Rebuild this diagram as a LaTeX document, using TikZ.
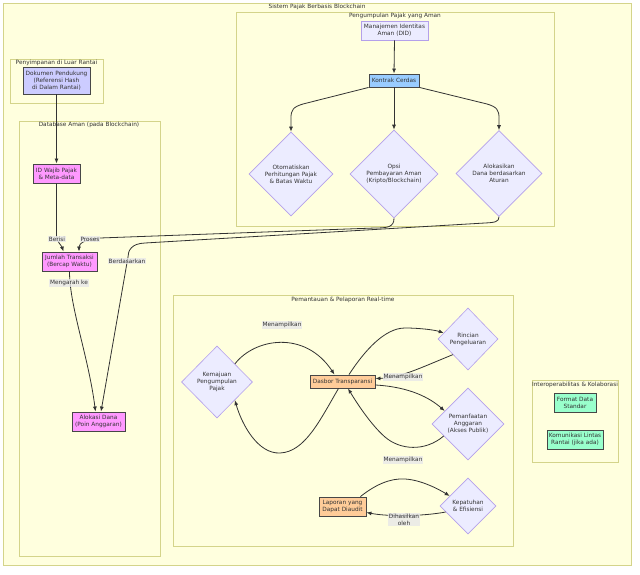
\documentclass[tikz,border=0pt]{standalone}
\usepackage{fontspec}
\setmainfont{DejaVu Sans}
\usetikzlibrary{shapes.geometric,arrows.meta}
\definecolor{clfill}{HTML}{FFFFDE}
\definecolor{cldraw}{HTML}{D4D48A}
\definecolor{ink}{HTML}{333333}
\definecolor{nfill}{HTML}{ECECFF}
\definecolor{ndraw}{HTML}{B4A0EA}
\definecolor{lblbg}{HTML}{E8E8E8}
\definecolor{cdok}{HTML}{CCCCFF}
\definecolor{cdb}{HTML}{FF99FF}
\definecolor{ckontrak}{HTML}{99CCFF}
\definecolor{cdasbor}{HTML}{FFCC99}
\definecolor{cinterop}{HTML}{99FFCC}
\begin{document}
\begin{tikzpicture}[x=1pt,y=-1pt,font=\fontsize{5.8}{7}\selectfont,text=ink]
		\tikzstyle{every node}+=[inner sep=0pt]
		\tikzstyle{cluster}=[draw=cldraw,fill=clfill,line width=0.8pt]
		\tikzstyle{box}=[rectangle,draw=ink!90,line width=0.9pt,align=center]
		\tikzstyle{plain}=[rectangle,draw=ndraw,fill=nfill,line width=0.6pt,align=center]
		\tikzstyle{choice}=[diamond,draw=ndraw,fill=nfill,line width=0.6pt,align=center,aspect=1]
		\tikzstyle{edge}=[draw=ink,line width=0.8pt,-{Latex[length=5pt,width=4pt]}]
		\tikzstyle{lbl}=[fill=lblbg,fill opacity=0.8,text opacity=1,inner sep=0.8pt,align=center]
		\fill [white] (0,0) rectangle (640,575);
		\useasboundingbox (0,0) rectangle (640,575);
		% clusters
		\draw [cluster] (3,3) rectangle (631,565);
		\node (tSistem) at (317,7) {Sistem Pajak Berbasis Blockchain};
		\draw [cluster] (10,59) rectangle (103,103);
		\node (tLuar) at (56.5,63) {Penyimpanan di Luar Rantai};
		\draw [cluster] (19,121) rectangle (160,556);
		\node (tDb) at (89,125) {Database Aman (pada Blockchain)};
		\draw [cluster] (236,12) rectangle (554,226);
		\node (tKumpul) at (395,16) {Pengumpulan Pajak yang Aman};
		\draw [cluster] (173,295) rectangle (513,546);
		\node (tPantau) at (343,300) {Pemantauan \& Pelaporan Real-time};
		\draw [cluster] (532,380) rectangle (618,462);
		\node (tInterop) at (575,385) {Interoperabilitas \& Kolaborasi};
		% nodes
		\node [box,fill=cdok,minimum width=67pt,minimum height=27pt] (dok) at (56.5,80.5) {Dokumen Pendukung\\(Referensi Hash\\di Dalam Rantai)};
		\node [box,fill=cdb,minimum width=47pt,minimum height=19pt] (idwp) at (56.5,173.5) {ID Wajib Pajak\\\& Meta-data};
		\node [box,fill=cdb,minimum width=55pt,minimum height=19pt] (jum) at (69.5,261.5) {Jumlah Transaksi\\(Bercap Waktu)};
		\node [box,fill=cdb,minimum width=53pt,minimum height=19pt] (ald) at (98.5,421.5) {Alokasi Dana\\(Poin Anggaran)};
		\node [plain,minimum width=67pt,minimum height=19pt] (did) at (394.5,30.5) {Manajemen Identitas\\Aman (DID)};
		\node [box,fill=ckontrak,minimum width=50pt,minimum height=13pt] (kc) at (394,80.5) {Kontrak Cerdas};
		\node [choice,minimum width=84pt,minimum height=84pt] (oto) at (291,174) {Otomatiskan\\Perhitungan Pajak\\\& Batas Waktu};
		\node [choice,minimum width=88pt,minimum height=88pt] (opsi) at (394,174) {Opsi\\Pembayaran Aman\\(Kripto/Blockchain)};
		\node [choice,minimum width=86pt,minimum height=86pt] (alk) at (499,173.5) {Alokasikan\\Dana berdasarkan\\Aturan};
		\node [box,fill=cdasbor,minimum width=65pt,minimum height=13pt] (das) at (342.5,381.5) {Dasbor Transparansi};
		\node [choice,minimum width=71pt,minimum height=72pt] (kem) at (217,382) {Kemajuan\\Pengumpulan\\Pajak};
		\node [choice,minimum width=60pt,minimum height=62pt] (rin) at (468,339) {Rincian\\Pengeluaran};
		\node [choice,minimum width=72pt,minimum height=72pt] (pem) at (468,424) {Pemanfaatan\\Anggaran\\(Akses Publik)};
		\node [box,fill=cdasbor,minimum width=47pt,minimum height=19pt] (lap) at (342.5,506.5) {Laporan yang\\Dapat Diaudit};
		\node [choice,minimum width=56pt,minimum height=56pt] (kep) at (468,506) {Kepatuhan\\\& Efisiensi};
		\node [box,fill=cinterop,minimum width=42pt,minimum height=19pt] (fds) at (575,402.5) {Format Data\\Standar};
		\node [box,fill=cinterop,minimum width=56pt,minimum height=19pt] (kom) at (575,439.5) {Komunikasi Lintas\\Rantai (jika ada)};
		% connectors
		\draw [edge] (dok.south) -- (idwp.north);
		\draw [edge] (idwp.south) -- ++(0,52) .. controls +(0,6) and +(-2,-6) .. ([xshift=-6pt]jum.north)
			node [lbl] at (57,239) {Berisi};
		\draw [edge] (opsi.south) .. controls +(0,9) and +(12,0) .. (375,228) -- (100,238) .. controls +(-14,0.5) and +(0,-8) .. ([xshift=9.5pt]jum.north)
			node [lbl] at (90,239) {Proses};
		\draw [edge] (alk.south) .. controls +(0,5) and +(10,-0.5) .. (485,223) -- (145,243) .. controls +(-14,0.5) and +(0,-6) .. (128,257) -- ([xshift=2.5pt]ald.north)
			node [lbl] at (127,261) {Berdasarkan};
		\draw [edge] (jum.south) .. controls +(0,35) and +(-7,-55) .. ([xshift=-3pt]ald.north)
			node [lbl] at (69,283) {Mengarah ke};
		\draw [edge] (did.south) -- (kc.north);
		\draw [edge] (kc.south west) -- (303,104) .. controls (293,107) and (291,110) .. (291,118) -- (oto.north);
		\draw [edge] (kc.south) -- (opsi.north);
		\draw [edge] (kc.south east) -- (487,104) .. controls (497,107) and (499,110) .. (499,118) -- (alk.north);
		\draw [edge] (kem.north east) .. controls (255,338) and (305,330) .. ([xshift=-8pt]das.north)
			node [lbl] at (282,325) {Menampilkan};
		\draw [edge] ([xshift=-4pt]das.south) .. controls (320,420) and (305,452) .. (280,453) .. controls (258,454) and (242,425) .. (kem.south east);
		\draw [edge] ([xshift=6.5pt]das.north) .. controls (365,350) and (385,328) .. (405,328) .. controls (420,328) and (435,330) .. ([xshift=6pt,yshift=6pt]rin.west);
		\draw [edge] (rin.south west) .. controls (420,368) and (400,378) .. ([yshift=3pt]das.east)
			node [lbl] at (403,377) {Menampilkan};
		\draw [edge] ([yshift=-3.5pt]das.east) .. controls (410,387) and (430,398) .. ([xshift=13pt,yshift=13pt]pem.west);
		\draw [edge] ([xshift=12pt,yshift=-12pt]pem.west) .. controls (425,452) and (400,450) .. (385,437) .. controls (370,424) and (355,400) .. ([xshift=5.5pt]das.south)
			node [lbl] at (403,460) {Menampilkan};
		\draw [edge] ([xshift=-6pt]lap.north east) .. controls (375,485) and (390,478) .. (405,479) .. controls (422,480) and (440,490) .. ([xshift=10pt,yshift=10pt]kep.west);
		\draw [edge] ([xshift=6pt,yshift=-6pt]kep.west) .. controls (425,516) and (390,517) .. ([yshift=-6pt]lap.east)
			node [lbl] at (404,519.5) {Dihasilkan\\oleh};
	\end{tikzpicture}
\end{document}
